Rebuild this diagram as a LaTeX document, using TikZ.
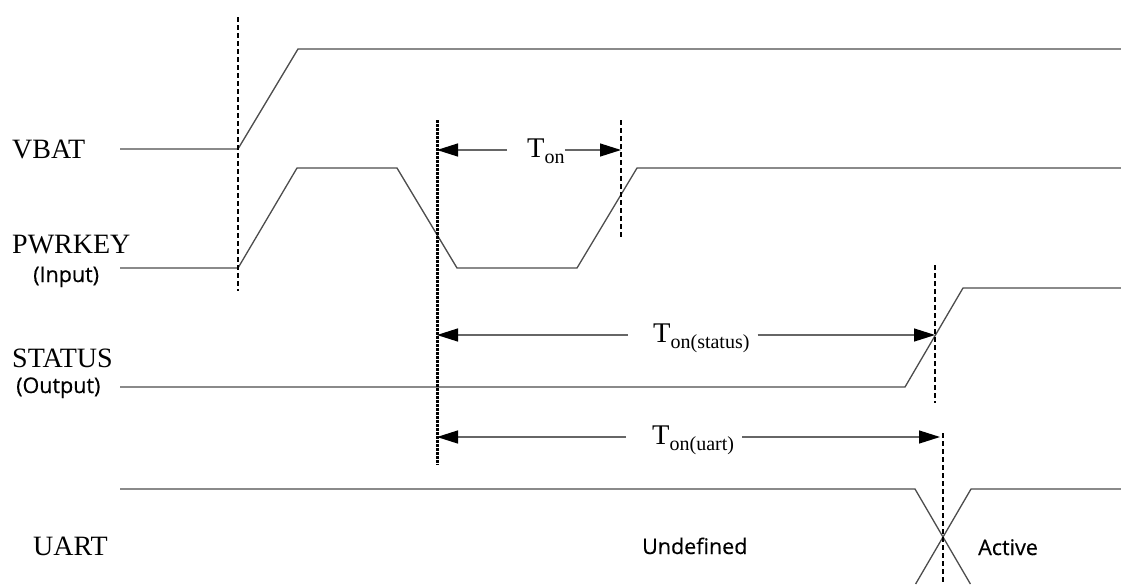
\documentclass[tikz,border=0pt]{standalone}
\usepackage{fontspec}
\setmainfont{Liberation Serif}
\newfontfamily\labelsans[FakeBold=0.4]{Open Sans}
\usetikzlibrary{arrows.meta,calc}
\begin{document}
\begin{tikzpicture}[x=1pt,y=-1pt,
  signal/.style={draw=black!70, line width=1.3pt, line join=miter},
  marker/.style={draw=black, line width=1.4pt, dash pattern=on 5pt off 3pt},
  heavymarker/.style={draw=black, line width=3pt, dash pattern=on 3pt off 1pt},
  dim/.style={draw=black!60, line width=1.3pt, -{Triangle[length=21pt,width=13pt,color=black]}},
  signame/.style={font=\fontsize{28}{30}\selectfont, inner sep=0pt, anchor=base west},
  note/.style={font=\labelsans\fontsize{21.5}{24}\selectfont, inner sep=0pt, anchor=base west},
  timing/.style={font=\fontsize{28.5}{30}\selectfont, inner sep=0pt, anchor=base west},
]
\useasboundingbox (0,0) rectangle (1121,584);

% signal names
\node[signame] (vbat)   at (12,158) {VBAT};
\node[signame] (pwrkey) at (12,253) {PWRKEY};
\node[note]    (input)  at (33,282) {(Input)};
\node[signame] (status) at (12,367) {STATUS};
\node[note]    (output) at (16,393) {(Output)};
\node[signame] (uart)   at (33,555) {UART};
\node[note]    (undef)  at (642,554) {Undefined};
\node[note]    (active) at (978,555) {Active};

% waveforms
\draw[signal] (120,149) -- (238,149) -- (298,49) -- (1121,49);
\draw[signal] (120,268) -- (238,268) -- (297,168) -- (397,168) -- (457,268)
              -- (577,268) -- (637,168) -- (1121,168);
\draw[signal] (120,387) -- (905,387) -- (963,288) -- (1121,288);
\draw[signal] (120,489) -- (915,489) -- (970.4,584);
\draw[signal] (915.6,584) -- (971,489) -- (1121,489);

% timing markers
\coordinate (m1top) at (238,17);  \coordinate (m1bot) at (238,291);
\coordinate (m2top) at (437,120); \coordinate (m2bot) at (437,465);
\coordinate (m3top) at (621,120); \coordinate (m3bot) at (621,238);
\coordinate (m4top) at (935,265); \coordinate (m4bot) at (935,403);
\coordinate (m5top) at (943,433); \coordinate (m5bot) at (943,584);
\draw[marker] (m1top) -- (m1bot);
\draw[heavymarker] (m2top) -- (m2bot);
\draw[marker] (m3top) -- (m3bot);
\draw[marker] (m4top) -- (m4bot);
\draw[marker] (m5top) -- (m5bot);

% intervals
\coordinate (onL) at (437,150);  \coordinate (onR) at (621,150);
\coordinate (stL) at (437,335);  \coordinate (stR) at (935,335);
\coordinate (uaL) at (437,437);  \coordinate (uaR) at (940,437);

\node[timing] (ton) at (527,157) {T\raisebox{-6pt}{\fontsize{20}{20}\selectfont on}};
\node[timing] (tst) at (653,342) {T\raisebox{-6pt}{\fontsize{20}{20}\selectfont on(status)}};
\node[timing] (tua) at (652,444) {T\raisebox{-6pt}{\fontsize{20}{20}\selectfont on(uart)}};

\draw[dim] ($(ton.west |- onL)+(-20,0)$) -- (onL);
\draw[dim] ($(ton.east |- onR)+(0,0)$) -- (onR);
\draw[dim] ($(tst.west |- stL)+(-25,0)$) -- (stL);
\draw[dim] ($(tst.east |- stR)+(8,0)$) -- (stR);
\draw[dim] ($(tua.west |- uaL)+(-26,0)$) -- (uaL);
\draw[dim] ($(tua.east |- uaR)+(8,0)$) -- (uaR);
\end{tikzpicture}
\end{document}
